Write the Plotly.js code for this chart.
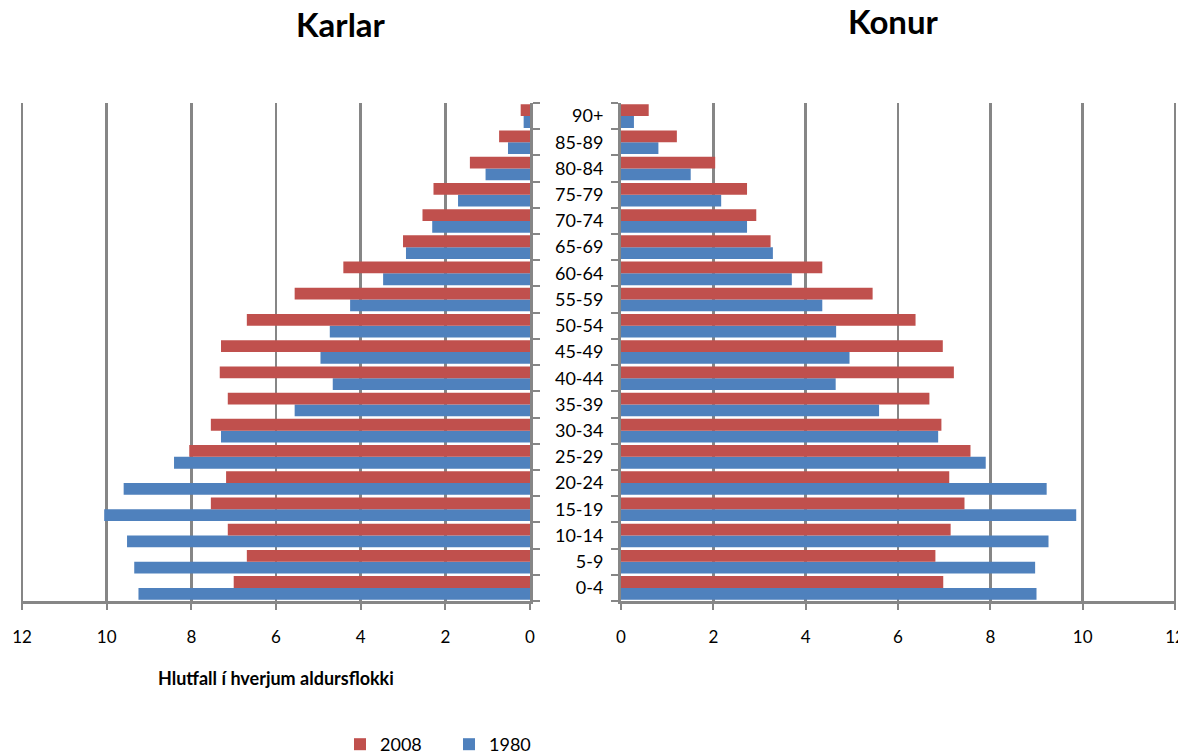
<!DOCTYPE html>
<html>
<head>
<meta charset="utf-8">
<script src="https://cdn.plot.ly/plotly-3.0.1.min.js"></script>
<style>html,body{margin:0;padding:0;background:#fff}#chart{width:1178px;height:756px}</style>
</head>
<body>
<div id="chart"></div>
<script>
const categories = ['0-4','5-9','10-14','15-19','20-24','25-29','30-34','35-39','40-44','45-49','50-54','55-59','60-64','65-69','70-74','75-79','80-84','85-89','90+'];
const karlar2008 = [7.00, 6.69, 7.14, 7.54, 7.18, 8.05, 7.54, 7.14, 7.33, 7.30, 6.69, 5.56, 4.41, 3.00, 2.54, 2.28, 1.42, 0.73, 0.22];
const karlar1980 = [9.25, 9.35, 9.52, 10.06, 9.60, 8.41, 7.30, 5.56, 4.66, 4.95, 4.73, 4.25, 3.47, 2.93, 2.31, 1.70, 1.05, 0.52, 0.15];
const konur2008 = [6.98, 6.81, 7.14, 7.44, 7.11, 7.57, 6.94, 6.68, 7.21, 6.97, 6.38, 5.45, 4.36, 3.24, 2.93, 2.73, 2.04, 1.21, 0.60];
const konur1980 = [9.00, 8.97, 9.26, 9.86, 9.22, 7.90, 6.87, 5.59, 4.65, 4.95, 4.66, 4.36, 3.70, 3.29, 2.73, 2.17, 1.51, 0.81, 0.28];
const xTicks = [0, 2, 4, 6, 8, 10, 12];
const titleLeft = 'Karlar';
const titleRight = 'Konur';
const xTitle = 'Hlutfall í hverjum aldursflokki';

const RED = '#C0504D', BLUE = '#4F81BD', GRID = '#868686';
const FONT = 'Lato, "Open Sans", sans-serif';

const traces = [
  {type:'bar', orientation:'h', y:categories, x:karlar1980, name:'1980', marker:{color:BLUE}, xaxis:'x', yaxis:'y', legendrank:2, legendgroup:'1980'},
  {type:'bar', orientation:'h', y:categories, x:karlar2008, name:'2008', marker:{color:RED}, xaxis:'x', yaxis:'y', legendrank:1, legendgroup:'2008'},
  {type:'bar', orientation:'h', y:categories, x:konur1980, name:'1980', marker:{color:BLUE}, xaxis:'x2', yaxis:'y2', showlegend:false, legendgroup:'1980'},
  {type:'bar', orientation:'h', y:categories, x:konur2008, name:'2008', marker:{color:RED}, xaxis:'x2', yaxis:'y2', showlegend:false, legendgroup:'2008'}
];

const yTop = 1 - 103/756, yBot = 1 - 601/756;
const xAxisCommon = {
  tickvals: xTicks, ticktext: xTicks.map(String),
  showgrid: true, gridcolor: GRID, gridwidth: 2.5,
  showline: true, linecolor: GRID, linewidth: 3,
  ticks: 'outside', ticklen: 6, tickcolor: GRID, tickwidth: 2,
  ticklabelstandoff: 13, ticklabeloverflow: 'allow',
  tickfont: {family: FONT, size: 17, color: '#000'},
  zeroline: false, fixedrange: true, automargin: false
};
const yAxisCommon = {
  type: 'category', tickson: 'boundaries',
  showline: true, linecolor: GRID, linewidth: 3,
  ticks: 'outside', ticklen: 7, tickcolor: GRID, tickwidth: 2,
  showgrid: false, zeroline: false, fixedrange: true, automargin: false,
  tickfont: {family: FONT, size: 18, color: '#000'},
  domain: [yBot, yTop]
};

const layout = {
  width: 1178, height: 756,
  margin: {l:0, r:0, t:0, b:0, autoexpand: false},
  paper_bgcolor: '#fff', plot_bgcolor: '#fff',
  barmode: 'group', bargap: 0.1, bargroupgap: 0,
  showlegend: true,
  legend: {orientation:'h', x: 340/1178, y: -7/756, xanchor:'left', yanchor:'bottom',
           font:{family: FONT, size: 18, color:'#000'}, itemwidth: 30,
           entrywidth: 64, entrywidthmode: 'pixels', tracegroupgap: 0},
  xaxis: Object.assign({}, xAxisCommon, {domain:[20.8/1178, 530/1178], range:[12.03, 0], anchor:'y'}),
  xaxis2: Object.assign({}, xAxisCommon, {domain:[621/1178, 1176.4/1178], range:[0, 12.03], anchor:'y2'}),
  yaxis: Object.assign({}, yAxisCommon, {anchor:'x', side:'right', showticklabels:false}),
  yaxis2: Object.assign({}, yAxisCommon, {anchor:'x2', side:'left', showticklabels:true, ticklabelstandoff: 11}),
  annotations: [
    {text:'<b>'+titleLeft+'</b>', xref:'paper', yref:'paper', x:341/1178, y:1-24/756, xanchor:'center', yanchor:'middle', showarrow:false, font:{family:FONT, size:33, color:'#000'}},
    {text:'<b>'+titleRight+'</b>', xref:'paper', yref:'paper', x:893/1178, y:1-21/756, xanchor:'center', yanchor:'middle', showarrow:false, font:{family:FONT, size:33, color:'#000'}},
    {text:'<b>'+xTitle+'</b>', xref:'paper', yref:'paper', x:276/1178, y:1-678/756, xanchor:'center', yanchor:'middle', showarrow:false, font:{family:FONT, size:18, color:'#000'}}
  ]
};

Plotly.newPlot('chart', traces, layout, {displayModeBar:false, staticPlot:true});
</script>
</body>
</html>
